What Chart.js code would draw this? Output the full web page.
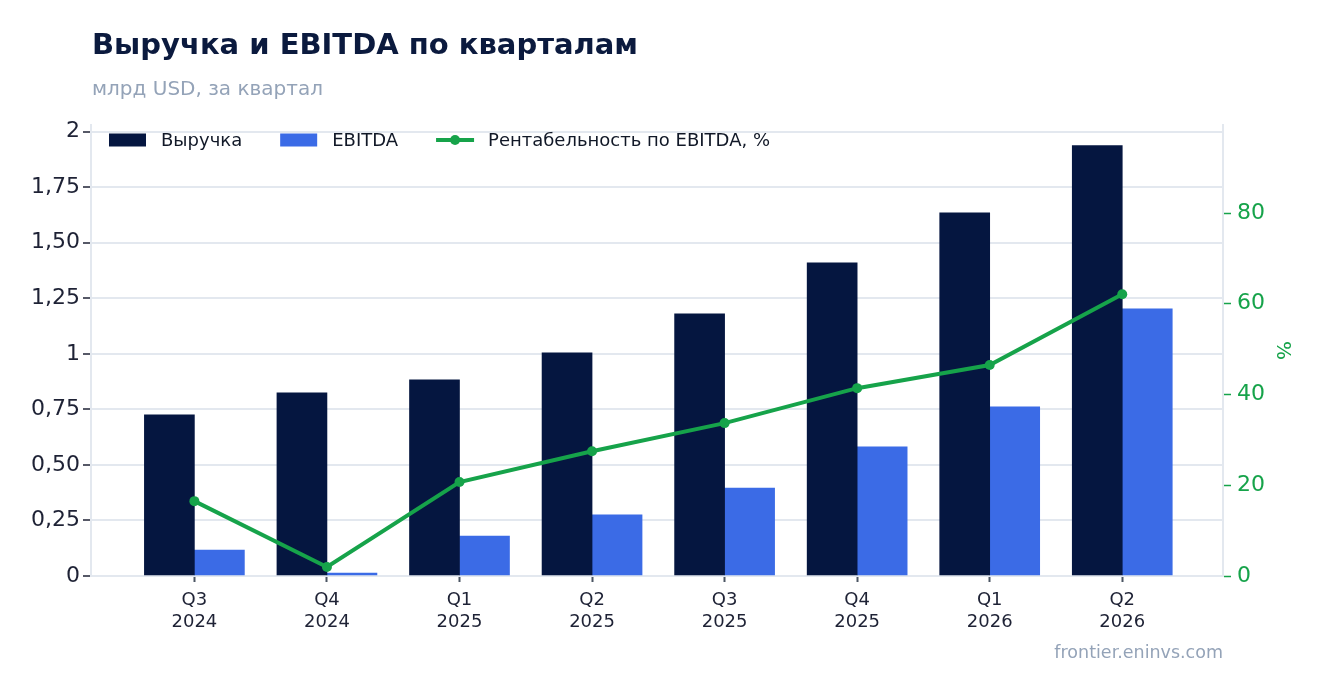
<!DOCTYPE html>
<html lang="ru">
<head>
<meta charset="utf-8">
<title>Выручка и EBITDA по кварталам</title>
<script src="https://cdn.jsdelivr.net/npm/chart.js@4.4.1/dist/chart.umd.min.js"></script>
<style>
  html, body { margin: 0; padding: 0; background: #fff; }
  #wrap { width: 1323px; height: 693px; position: relative; }
</style>
</head>
<body>
<div id="wrap"><canvas id="chart"></canvas></div>
<script>
// ── data ──────────────────────────────────────────────
const quarters = [['Q3', '2024'], ['Q4', '2024'], ['Q1', '2025'], ['Q2', '2025'],
                  ['Q3', '2025'], ['Q4', '2025'], ['Q1', '2026'], ['Q2', '2026']];
const revenue = [0.725, 0.824, 0.883, 1.005, 1.18, 1.41, 1.635, 1.937];
const ebitda  = [0.117, 0.0135, 0.18, 0.275, 0.396, 0.581, 0.761, 1.203];
const margin  = [16.5, 2.0, 20.7, 27.5, 33.7, 41.4, 46.5, 62.1];
const leftTicks = [0, 0.25, 0.5, 0.75, 1, 1.25, 1.5, 1.75, 2];
const rightTicks = [0, 20, 40, 60, 80];

const TITLE = 'Выручка и EBITDA по кварталам';
const SUBTITLE = 'млрд USD, за квартал';
const SOURCE = 'frontier.eninvs.com';

const NAVY = '#051640';
const BLUE = '#3b6be6';
const GREEN = '#16a34a';
const GRID = '#e3e8ef';
const FONT = "'DejaVu Sans', sans-serif";

const toXY = arr => arr.map((v, i) => ({ x: i, y: v }));

const fmtLeft = v => Number.isInteger(v) ? String(v) : v.toFixed(2).replace('.', ',');

// title, subtitle, source and the legend are painted by hand
const decorations = {
    id: 'decorations',
    afterDatasetsDraw(chart) {
        const { ctx, chartArea } = chart;
        ctx.save();
        ctx.textBaseline = 'alphabetic';
        ctx.textAlign = 'left';

        ctx.fillStyle = '#0b1a3e';
        ctx.font = `bold 29px ${FONT}`;
        ctx.fillText(TITLE, 92, 54);

        ctx.fillStyle = '#94a3b8';
        ctx.font = `20px ${FONT}`;
        ctx.fillText(SUBTITLE, 92, 95);

        ctx.textAlign = 'right';
        ctx.font = `17.5px ${FONT}`;
        ctx.fillText(SOURCE, chartArea.right, 658);

        // legend inside the plot, top-left
        ctx.textAlign = 'left';
        ctx.textBaseline = 'middle';
        ctx.font = `18px ${FONT}`;
        let x = chartArea.left + 18;
        const y = chartArea.top + 15;
        chart.data.datasets.forEach(ds => {
            if (ds.type === 'line') {
                ctx.strokeStyle = ds.borderColor;
                ctx.lineWidth = 4;
                ctx.beginPath();
                ctx.moveTo(x, y);
                ctx.lineTo(x + 38, y);
                ctx.stroke();
                ctx.fillStyle = ds.borderColor;
                ctx.beginPath();
                ctx.arc(x + 19, y, 5, 0, Math.PI * 2);
                ctx.fill();
            } else {
                ctx.fillStyle = ds.backgroundColor;
                ctx.fillRect(x, y - 6.5, 37, 13);
            }
            ctx.fillStyle = '#111827';
            ctx.fillText(ds.label, x + 52, y + 1);
            x += 52 + ctx.measureText(ds.label).width + 38;
        });
        ctx.restore();
    }
};

new Chart(document.getElementById('chart'), {
    data: {
        datasets: [
            {
                type: 'bar',
                label: 'Выручка',
                data: toXY(revenue),
                yAxisID: 'y',
                backgroundColor: NAVY,
                barThickness: 50,
                order: 1,
            },
            {
                type: 'bar',
                label: 'EBITDA',
                data: toXY(ebitda),
                yAxisID: 'y',
                backgroundColor: BLUE,
                barThickness: 50,
                order: 1,
            },
            {
                type: 'line',
                label: 'Рентабельность по EBITDA, %',
                data: toXY(margin),
                yAxisID: 'y1',
                borderColor: GREEN,
                backgroundColor: GREEN,
                borderWidth: 4,
                pointRadius: 5,
                pointHoverRadius: 5,
                pointBackgroundColor: GREEN,
                pointBorderWidth: 0,
                order: 0,
            },
        ],
    },
    options: {
        responsive: true,
        maintainAspectRatio: false,
        animation: false,
        layout: { padding: { top: 125, right: 0, bottom: 0, left: 0 } },
        plugins: {
            legend: { display: false },
            tooltip: { enabled: false },
        },
        scales: {
            x: {
                type: 'linear',
                min: -0.78,
                max: 7.76,
                offset: false,
                afterFit: s => { s.height = 693 - 576; },
                afterBuildTicks: s => { s.ticks = quarters.map((q, i) => ({ value: i })); },
                grid: { offset: false, drawOnChartArea: false, drawTicks: true, tickLength: 6, tickColor: '#4b5563', tickWidth: 2 },
                border: { color: GRID, width: 2 },
                ticks: {
                    color: '#1e2235',
                    font: { family: FONT, size: 18 },
                    padding: 8,
                    maxRotation: 0,
                    callback: v => quarters[v] || '',
                },
            },
            y: {
                position: 'left',
                min: 0,
                max: 2.03,
                afterFit: s => { s.width = 91; },
                afterBuildTicks: s => { s.ticks = leftTicks.map(v => ({ value: v })); },
                grid: { color: GRID, lineWidth: 2, tickColor: '#1e2235', tickLength: 8, tickWidth: 1.5 },
                border: { color: GRID, width: 2 },
                ticks: {
                    color: '#1e2235',
                    font: { family: FONT, size: 22 },
                    padding: 3,
                    callback: v => fmtLeft(v),
                },
            },
            y1: {
                position: 'right',
                min: 0,
                max: 99.4,
                afterFit: s => { s.width = 100; },
                afterBuildTicks: s => { s.ticks = rightTicks.map(v => ({ value: v })); },
                grid: { drawOnChartArea: false, tickColor: GREEN, tickLength: 8, tickWidth: 1.5 },
                border: { color: GRID, width: 2 },
                ticks: {
                    color: GREEN,
                    font: { family: FONT, size: 22 },
                    padding: 6,
                },
                title: {
                    display: true,
                    text: '%',
                    color: GREEN,
                    font: { family: FONT, size: 20 },
                    padding: { top: 29, bottom: 0 },
                },
            },
        },
    },
    plugins: [decorations],
});
</script>
</body>
</html>
